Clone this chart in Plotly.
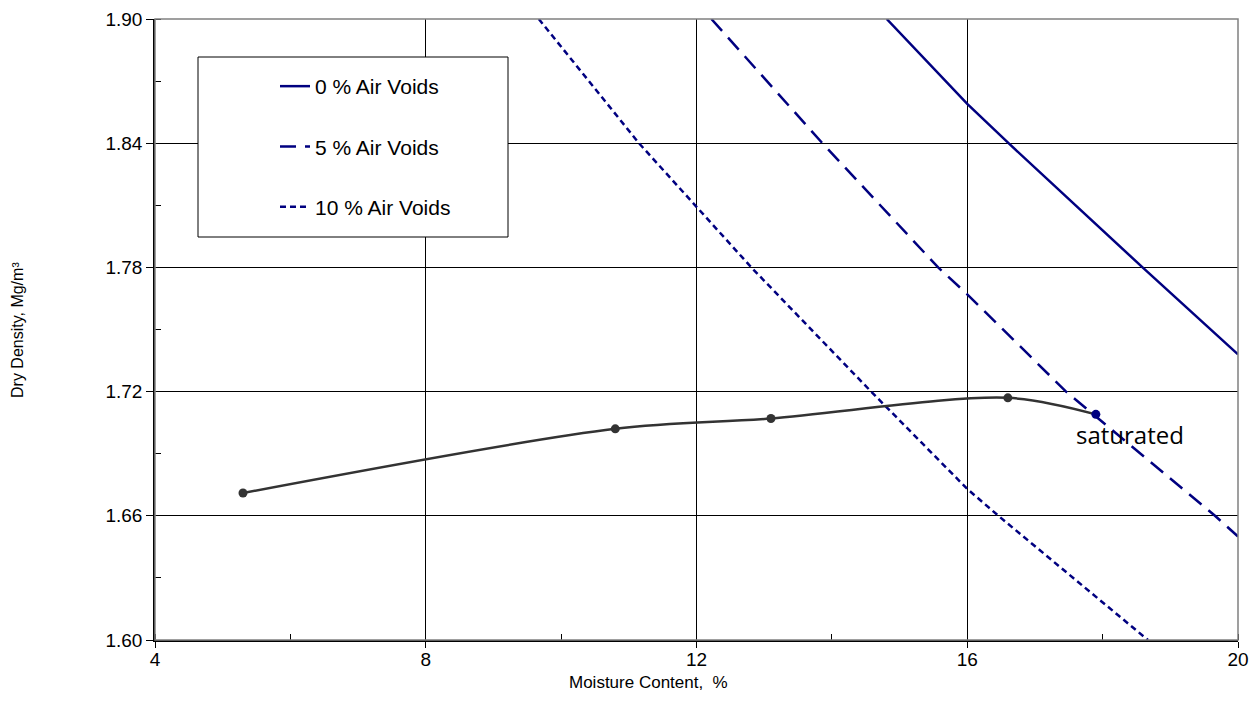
import plotly.graph_objects as go

# Compaction test data (moisture %, dry density Mg/m3)
moisture = [5.3, 10.8, 13.1, 16.6, 17.9]
dry_density = [1.671, 1.702, 1.707, 1.717, 1.709]

# Air-voids lines
av0_w = [14.81, 16.0, 16.61, 18.59, 20.0]
av0_d = [1.900, 1.859, 1.840, 1.780, 1.738]
av5_w = [12.22, 13.86, 15.57, 16.0, 17.46, 19.66, 20.0]
av5_d = [1.900, 1.840, 1.780, 1.767, 1.720, 1.660, 1.650]
av10_w = [9.67, 11.15, 12.81, 14.58, 16.0, 16.46, 18.67]
av10_d = [1.900, 1.840, 1.780, 1.720, 1.673, 1.660, 1.600]

x_ticks = [4, 8, 12, 16, 20]
y_ticks = [1.60, 1.66, 1.72, 1.78, 1.84, 1.90]
y_tick_text = ["1.60", "1.66", "1.72", "1.78", "1.84", "1.90"]

NAVY = "#000080"
FONT = "Liberation Sans, Arial, sans-serif"

L, R, T, B = 155, 1238, 19, 640
PW, PH = R - L, B - T

fig = go.Figure()
fig.add_trace(go.Scatter(x=av0_w, y=av0_d, mode="lines", name="0 % Air Voids",
                         line=dict(color=NAVY, width=2.5), legendgroup="a"))
fig.add_trace(go.Scatter(x=av5_w, y=av5_d, mode="lines", name="5 % Air Voids",
                         line=dict(color=NAVY, width=2.5, dash="16px,9px"), legendgroup="b"))
fig.add_trace(go.Scatter(x=av10_w, y=av10_d, mode="lines", name="10 % Air Voids",
                         line=dict(color=NAVY, width=2.5, dash="6px,4px"), legendgroup="c"))
fig.add_trace(go.Scatter(x=moisture, y=dry_density, mode="lines+markers", showlegend=False,
                         line=dict(color="#333333", width=2.5, shape="spline", smoothing=0.9),
                         marker=dict(size=9, color=["#333333"] * 4 + [NAVY])))

fig.add_annotation(x=moisture[-1], y=dry_density[-1], text="saturated", showarrow=False,
                   xanchor="center", yanchor="middle", xshift=34, yshift=-20,
                   font=dict(family="Open Sans, sans-serif", size=24, color="#000000"))

# axis titles
fig.add_annotation(xref="paper", yref="paper", x=(648 - L) / PW, y=(B - 682) / PH,
                   text="Moisture Content,  %", showarrow=False, xanchor="center", yanchor="middle",
                   font=dict(family=FONT, size=17, color="black"))
fig.add_annotation(xref="paper", yref="paper", x=(17 - L) / PW, y=(B - 330) / PH,
                   text="Dry Density, Mg/m³", showarrow=False, xanchor="center", yanchor="middle",
                   textangle=-90, font=dict(family=FONT, size=16, color="black"))

# legend box
fig.add_shape(type="rect", xref="paper", yref="paper",
              x0=(198 - L) / PW, x1=(508 - L) / PW,
              y0=(B - 237) / PH, y1=(B - 57) / PH,
              line=dict(color="black", width=1), fillcolor="white", layer="above")
# plot border (top/right)
fig.add_shape(type="rect", xref="paper", yref="paper", x0=0, x1=1, y0=0, y1=1,
              line=dict(color="#808080", width=1.5), layer="above")

fig.update_layout(
    width=1257, height=720,
    margin=dict(l=L, r=1257 - R, t=T, b=720 - B, autoexpand=False),
    paper_bgcolor="white", plot_bgcolor="white",
    font=dict(family=FONT, size=19, color="black"),
    showlegend=True,
    legend=dict(x=(275 - L) / PW, y=(B - 66) / PH, xanchor="left", yanchor="top",
                bgcolor="rgba(0,0,0,0)", borderwidth=0, tracegroupgap=30,
                font=dict(family=FONT, size=21, color="black"), itemwidth=30),
    xaxis=dict(range=[4, 20], tickmode="array", tickvals=x_ticks, automargin=False,
               showgrid=True, gridcolor="black", gridwidth=1,
               showline=True, linecolor="black", linewidth=1.5,
               ticks="outside", ticklen=6, tickcolor="black", ticklabelstandoff=-5,
               minor=dict(dtick=2, ticks="inside", ticklen=6, tickcolor="black", showgrid=False),
               zeroline=False, tickfont=dict(size=19)),
    yaxis=dict(range=[1.60, 1.90], tickmode="array", tickvals=y_ticks, ticktext=y_tick_text,
               automargin=False,
               showgrid=True, gridcolor="black", gridwidth=1,
               showline=True, linecolor="black", linewidth=1.5,
               ticks="outside", ticklen=7, tickcolor="black",
               minor=dict(dtick=0.03, tick0=1.60, ticks="inside", ticklen=6, tickcolor="black", showgrid=False),
               zeroline=False, tickfont=dict(size=19)),
)

fig.write_html("out.html", config={"displayModeBar": False},
               post_script="document.body.style.margin='0';")
